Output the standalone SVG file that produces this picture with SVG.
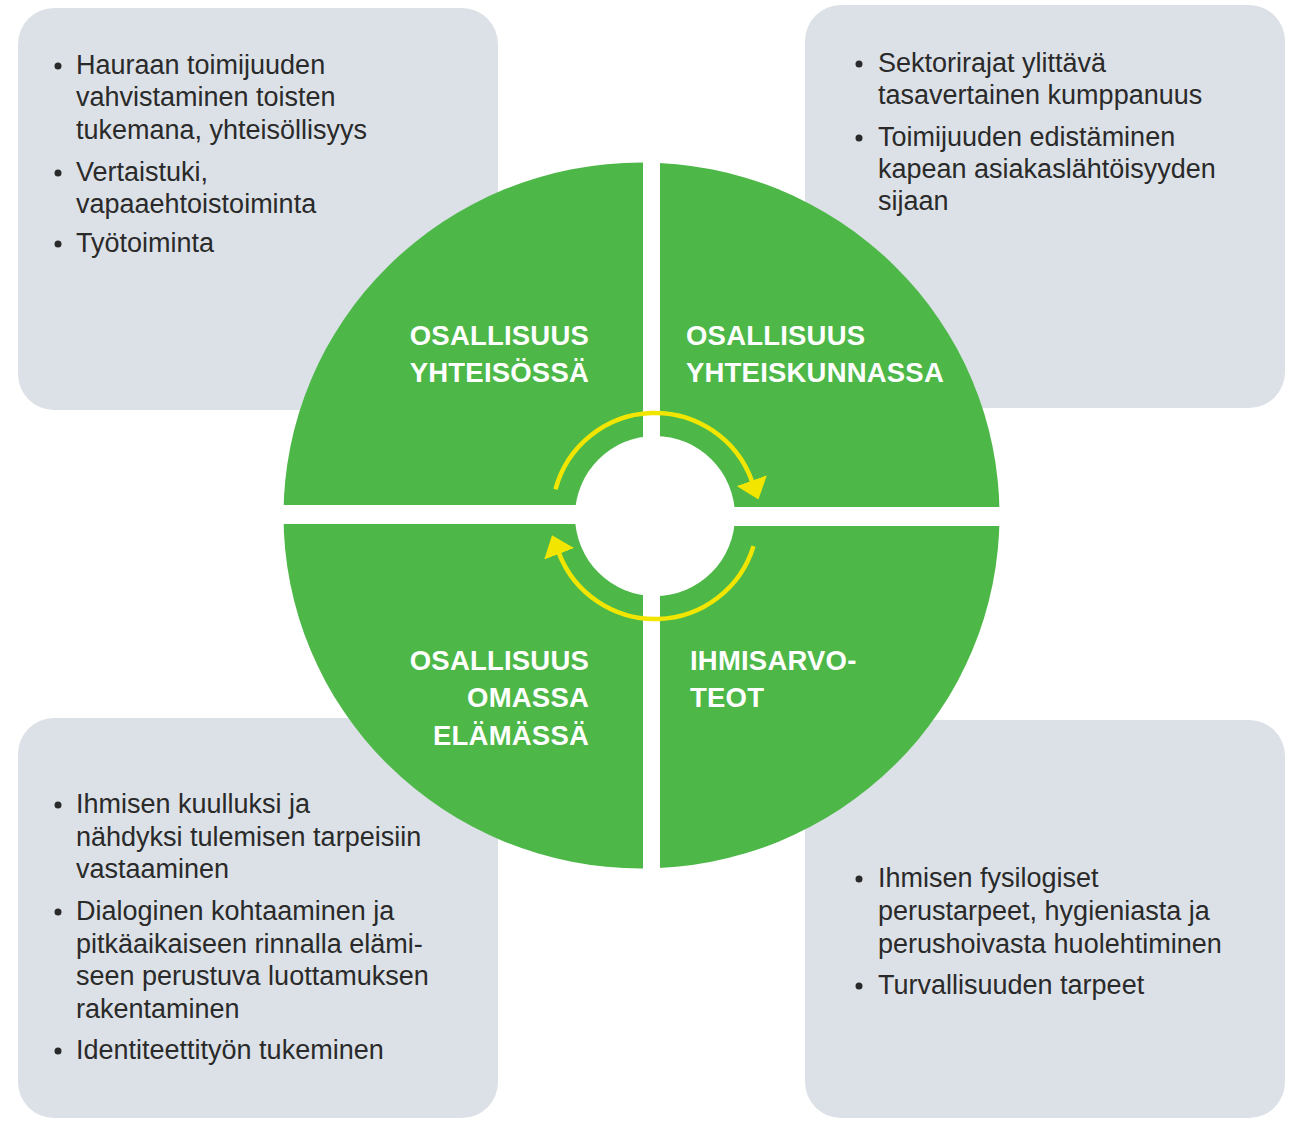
<svg xmlns="http://www.w3.org/2000/svg" width="1294" height="1121" viewBox="0 0 1294 1121">
<style>
.box{fill:#dce1e7}
.quad{fill:#4db848}
.body{font-family:"Liberation Sans",Arial,sans-serif;font-size:27px;fill:#2a2a2a}
.lab{font-family:"Liberation Sans",Arial,sans-serif;font-size:27.5px;font-weight:bold;fill:#ffffff;letter-spacing:0.2px}
.bul{fill:#2a2a2a}
.arc{fill:none;stroke:#f2e600;stroke-width:4.5}
</style>
<defs>
<clipPath id="disc"><ellipse cx="641.5" cy="515.5" rx="358" ry="353"/></clipPath>
<marker id="ah" markerUnits="userSpaceOnUse" viewBox="0 0 20 32" markerWidth="20" markerHeight="32" refX="1" refY="16" orient="auto">
<path d="M0,0 L20,16 L0,32 Z" fill="#f2e600"/>
</marker>
</defs>
<rect width="1294" height="1121" fill="#ffffff"/>

<g id="box-tl">
<rect class="box" x="18" y="8" width="480" height="402" rx="36"/>
<circle class="bul" cx="58" cy="66" r="3.5"/>
<text class="body" x="76" y="74">Hauraan toimijuuden</text>
<text class="body" x="76" y="106">vahvistaminen toisten</text>
<text class="body" x="76" y="139">tukemana, yhteisöllisyys</text>
<circle class="bul" cx="58" cy="173" r="3.5"/>
<text class="body" x="76" y="181">Vertaistuki,</text>
<text class="body" x="76" y="213">vapaaehtoistoiminta</text>
<circle class="bul" cx="58" cy="244" r="3.5"/>
<text class="body" x="76" y="252">Työtoiminta</text>
</g>

<g id="box-tr">
<rect class="box" x="805" y="5" width="480" height="403" rx="36"/>
<circle class="bul" cx="859" cy="64" r="3.5"/>
<text class="body" x="878" y="72">Sektorirajat ylittävä</text>
<text class="body" x="878" y="104">tasavertainen kumppanuus</text>
<circle class="bul" cx="859" cy="138" r="3.5"/>
<text class="body" x="878" y="146">Toimijuuden edistäminen</text>
<text class="body" x="878" y="178">kapean asiakaslähtöisyyden</text>
<text class="body" x="878" y="210">sijaan</text>
</g>

<g id="box-bl">
<rect class="box" x="18" y="718" width="480" height="400" rx="36"/>
<circle class="bul" cx="58" cy="805" r="3.5"/>
<text class="body" x="76" y="813">Ihmisen kuulluksi ja</text>
<text class="body" x="76" y="846">nähdyksi tulemisen tarpeisiin</text>
<text class="body" x="76" y="878">vastaaminen</text>
<circle class="bul" cx="58" cy="912" r="3.5"/>
<text class="body" x="76" y="920">Dialoginen kohtaaminen ja</text>
<text class="body" x="76" y="953">pitkäaikaiseen rinnalla elämi-</text>
<text class="body" x="76" y="985">seen perustuva luottamuksen</text>
<text class="body" x="76" y="1018">rakentaminen</text>
<circle class="bul" cx="58" cy="1051" r="3.5"/>
<text class="body" x="76" y="1059">Identiteettityön tukeminen</text>
</g>

<g id="box-br">
<rect class="box" x="805" y="720" width="480" height="398" rx="36"/>
<circle class="bul" cx="859" cy="879" r="3.5"/>
<text class="body" x="878" y="887">Ihmisen fysilogiset</text>
<text class="body" x="878" y="920">perustarpeet, hygieniasta ja</text>
<text class="body" x="878" y="953">perushoivasta huolehtiminen</text>
<circle class="bul" cx="859" cy="986" r="3.5"/>
<text class="body" x="878" y="994">Turvallisuuden tarpeet</text>
</g>

<g id="quad-tl">
<rect class="quad" x="270" y="150" width="373" height="355" clip-path="url(#disc)"/>
<text class="lab" x="589" y="345" text-anchor="end">OSALLISUUS</text>
<text class="lab" x="589" y="382" text-anchor="end">YHTEISÖSSÄ</text>
</g>

<g id="quad-tr">
<rect class="quad" x="660" y="150" width="350" height="357" clip-path="url(#disc)"/>
<text class="lab" x="686" y="345">OSALLISUUS</text>
<text class="lab" x="686" y="382">YHTEISKUNNASSA</text>
</g>

<g id="quad-bl">
<rect class="quad" x="270" y="524" width="373" height="360" clip-path="url(#disc)"/>
<text class="lab" x="589" y="670" text-anchor="end">OSALLISUUS</text>
<text class="lab" x="589" y="707" text-anchor="end">OMASSA</text>
<text class="lab" x="589" y="745" text-anchor="end">ELÄMÄSSÄ</text>
</g>

<g id="quad-br">
<rect class="quad" x="660" y="526" width="350" height="360" clip-path="url(#disc)"/>
<text class="lab" x="690" y="670">IHMISARVO-</text>
<text class="lab" x="690" y="707">TEOT</text>
</g>

<g id="center">
<circle cx="655" cy="516" r="80" fill="#ffffff"/>
</g>

<g id="connectors">
<path class="arc" d="M555.5,489.3 A103,103 0 0 1 752.1,481.6" marker-end="url(#ah)"/>
<path class="arc" d="M753.5,546.1 A103,103 0 0 1 558.8,552.9" marker-end="url(#ah)"/>
</g>
</svg>
